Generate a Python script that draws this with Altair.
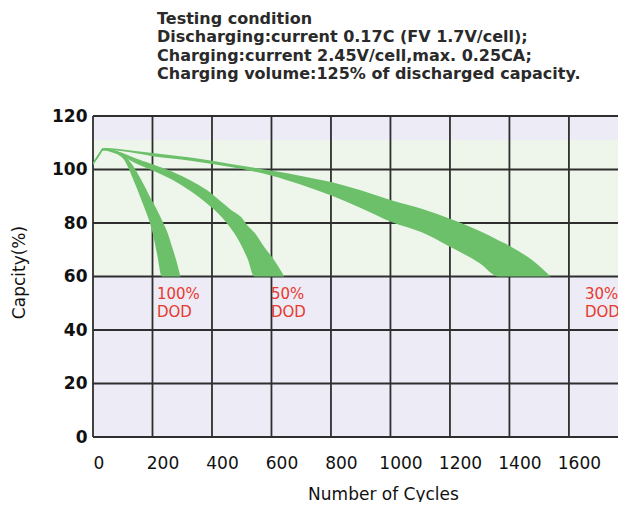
import altair as alt
import pandas as pd

heading = [
    "Testing condition",
    "Discharging:current 0.17C (FV 1.7V/cell);",
    "Charging:current 2.45V/cell,max. 0.25CA;",
    "Charging volume:125% of discharged capacity.",
]

x_ticks = [0, 200, 400, 600, 800, 1000, 1200, 1400, 1600]
y_ticks = [0, 20, 40, 60, 80, 100, 120]
x_max = 1765
y_max = 120

# light green zone behind the curves
zone_lo = [60]
zone_hi = [111]

# 100% DOD band
cyc_100 = [0, 20, 35, 60, 100, 140, 170, 200, 215, 232, 250, 266, 280, 294]
up_100 = [102.5, 106, 108, 107.5, 105.8, 100.5, 94.5, 88, 85, 81, 76.5, 71, 66, 60]
lo_100 = [101.8, 105, 107.2, 106.5, 104.2, 95, 86.5, 76.5, 68.6, 60, 60, 60, 60, 60]

# 50% DOD band
cyc_50 = [0, 20, 35, 60, 100, 136, 200, 271, 330, 384, 430, 463, 497, 520, 542, 575, 610, 643]
up_50 = [102.5, 106, 108, 107.5, 106.2, 104.5, 102, 99, 95.8, 92.2, 88, 85, 82.3, 79, 76.5, 71.1, 66, 60]
lo_50 = [101.8, 105, 107.2, 107, 105, 102.7, 99.6, 95.9, 91.8, 87.2, 82.5, 78, 72, 66.5, 60, 60, 60, 60]

# 30% DOD band
cyc_30 = [0, 20, 35, 60, 100, 200, 328, 463, 598, 700, 801, 900, 1003, 1105, 1200, 1300, 1364, 1386, 1430, 1476, 1538]
up_30 = [102.5, 106, 108, 107.9, 107.5, 106.2, 104.5, 102.1, 99.6, 97.6, 95.3, 92.2, 88.5, 85.3, 81.6, 77, 73.5, 72.3, 69.5, 66.2, 60]
lo_30 = [101.8, 105, 107.2, 107.2, 106.8, 105, 103.3, 100.9, 97.8, 94.3, 90.3, 85.6, 80.4, 76.5, 71.1, 65, 60, 60, 60, 60, 60]

dod_x = [215, 598, 1654]
dod_pct = ["100%", "50%", "30%"]
dod_word = ["DOD", "DOD", "DOD"]
dod_level = [60, 60, 60]

GREEN = "#6cc06a"
GRID = "#2e2e2e"
RED = "#e8392f"
FONT = "DejaVu Sans"

bands = pd.concat([
    pd.DataFrame({"cycles": c, "upper": u, "lower": l, "band": b})
    for c, u, l, b in [
        (cyc_100, up_100, lo_100, "100"),
        (cyc_50, up_50, lo_50, "50"),
        (cyc_30, up_30, lo_30, "30"),
    ]
])

xs = alt.Scale(domain=[0, x_max], nice=False, zero=False)
ys = alt.Scale(domain=[0, y_max], nice=False, zero=False)

xaxis = alt.Axis(
    values=x_ticks,
    format="d",
    title="Number of Cycles",
    grid=False,
    ticks=False,
    domain=False,
    labelFont=FONT,
    labelFontSize=17,
    labelColor="#111",
    labelPadding=18,
    labelOffset={"condition": {"test": "datum.value == 0", "value": 0}, "value": 10},
    titleFont=FONT,
    titleFontSize=17,
    titleFontWeight="normal",
    titleColor="#111",
    titleBaseline="alphabetic",
    titleX=290,
    titleY=62,
)
yaxis = alt.Axis(
    values=y_ticks,
    title="Capcity(%)",
    grid=False,
    ticks=False,
    domain=False,
    labelFont=FONT,
    labelFontSize=17,
    labelFontWeight="bold",
    labelColor="#111",
    labelPadding=6,
    titleFont=FONT,
    titleFontSize=17,
    titleFontWeight="normal",
    titleColor="#111",
    titleX=-65,
    titleY=156,
)

bg = alt.Chart(pd.DataFrame({"x0": [0], "x1": [x_max], "lo": [0], "hi": [y_max]})).mark_rect(
    color="#ecebf6"
).encode(
    x=alt.X("x0:Q", scale=xs, axis=xaxis),
    x2="x1:Q",
    y=alt.Y("lo:Q", scale=ys, axis=yaxis),
    y2="hi:Q",
)

zone = alt.Chart(pd.DataFrame({"x0": [0], "x1": [x_max], "lo": zone_lo, "hi": zone_hi})).mark_rect(
    color="#eef6ec"
).encode(
    x=alt.X("x0:Q", scale=xs, axis=xaxis),
    x2="x1:Q",
    y=alt.Y("lo:Q", scale=ys, axis=yaxis),
    y2="hi:Q",
)

vgrid = alt.Chart(pd.DataFrame({"v": x_ticks})).mark_rule(color=GRID, strokeWidth=1.8).encode(
    x=alt.X("v:Q", scale=xs, axis=xaxis)
)
hgrid = alt.Chart(pd.DataFrame({"v": y_ticks})).mark_rule(color=GRID, strokeWidth=1.8).encode(
    y=alt.Y("v:Q", scale=ys, axis=yaxis)
)

area = alt.Chart(bands).mark_area(color=GREEN, interpolate="monotone", opacity=1).encode(
    x=alt.X("cycles:Q", scale=xs, axis=xaxis),
    y=alt.Y("upper:Q", scale=ys, axis=yaxis),
    y2="lower:Q",
    detail="band:N",
)

dod = pd.DataFrame({"x": dod_x, "lvl": dod_level, "pct": dod_pct, "word": dod_word})
txt1 = alt.Chart(dod).mark_text(
    color=RED, font=FONT, fontSize=15, align="left", baseline="alphabetic", dy=22
).encode(x=alt.X("x:Q", scale=xs, axis=xaxis), y=alt.Y("lvl:Q", scale=ys, axis=yaxis), text="pct:N")
txt2 = alt.Chart(dod).mark_text(
    color=RED, font=FONT, fontSize=15, align="left", baseline="alphabetic", dy=40
).encode(x=alt.X("x:Q", scale=xs, axis=xaxis), y=alt.Y("lvl:Q", scale=ys, axis=yaxis), text="word:N")

chart = alt.layer(bg, zone, vgrid, hgrid, area, txt1, txt2).properties(
    width=525,
    height=321,
    autosize="none",
    padding={"left": 85, "top": 108, "right": 0, "bottom": 65},
    title=alt.TitleParams(
        text=heading,
        anchor="start",
        frame="group",
        dx=64,
        font=FONT,
        fontSize=16,
        fontWeight="bold",
        color="#2a2a2a",
        lineHeight=18.5,
        offset=25,
    ),
).configure_view(stroke=None)

chart.save("out.html", embed_options={"renderer": "svg", "actions": False})
